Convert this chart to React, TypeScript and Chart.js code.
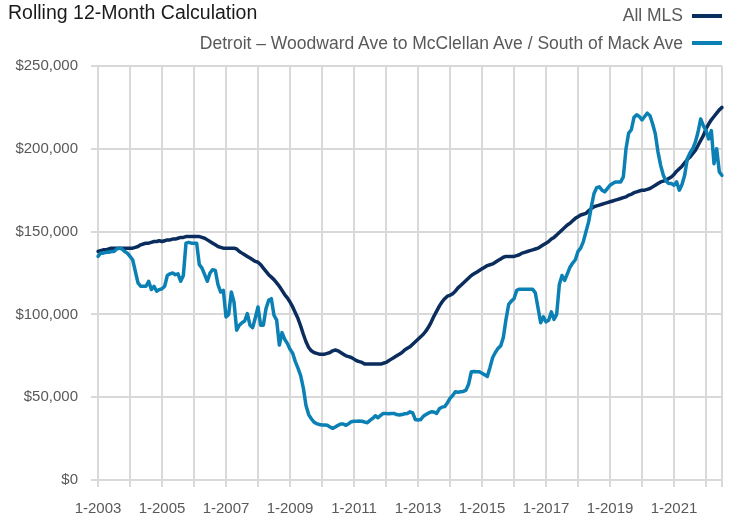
import React, { useEffect, useRef } from 'react';
import { Chart, registerables } from 'chart.js';

Chart.register(...registerables);

// Monthly categories, 1-2003 … 7-2022
const months: string[] = [];
for (let y = 2003; y <= 2022; y++) {
  for (let m = 1; m <= 12; m++) {
    if (months.length < 235) months.push(`${m}-${y}`);
  }
}

const xTickLabels = ['1-2003', '1-2005', '1-2007', '1-2009', '1-2011', '1-2013', '1-2015', '1-2017', '1-2019', '1-2021'];
const yTickValues = [0, 50, 100, 150, 200, 250]; // thousands of dollars

// All MLS, rolling 12-month median price (thousands)
const allMLS = [
  138, 138.5, 139, 139, 139.5, 140, 140, 140, 140, 140, 140, 140,
  140, 140, 140.5, 141, 142, 142.5, 143, 143, 143.5, 144, 144, 144.5,
  144, 144.5, 145, 145, 145.5, 145.5, 146, 146.5, 146.5, 147, 147, 147,
  147, 147, 147, 146.5, 146, 145, 144, 143, 142, 141, 140.5, 140,
  140, 140, 140, 140, 139.5, 138, 137, 136, 135, 134, 133, 132,
  131.5, 130, 128, 126, 124, 122.5, 121, 119, 117, 114.5, 112, 110,
  107.5, 104.5, 101, 97.5, 93, 88, 83.5, 80, 78, 77, 76.5, 76,
  76, 76, 76.5, 77, 78, 78.5, 78, 77, 76, 75, 74.5, 74,
  73, 72, 71.5, 71, 70, 70, 70, 70, 70, 70, 70, 70.5,
  71, 72, 73, 74, 75, 76, 77, 78.5, 79.5, 80.5, 82, 83.5,
  85, 86.5, 88, 90, 92.5, 95.5, 99, 102, 105, 107.5, 109.5, 111,
  111.5, 112.5, 114, 116, 117.5, 119, 120.5, 122, 123.5, 124.5, 125.5, 126.5,
  127.5, 128.5, 129.5, 130, 130.5, 131.5, 132.5, 133.5, 134.5, 135, 135, 135,
  135, 135.5, 136, 137, 137.5, 138, 138.5, 139, 139.5, 140, 141, 142,
  143, 144, 145.5, 146.5, 148, 149.5, 151, 152.5, 154, 155, 156.5, 158,
  159, 160, 160.5, 161, 162.5, 164, 165, 165.5, 166, 166.5, 167, 167.5,
  168, 168.5, 169, 169.5, 170, 170.5, 171, 172, 172.5, 173.5, 174, 174.5,
  175, 175, 175.5, 176, 177, 178, 179, 180, 180.5, 181, 182, 183,
  184.5, 186.5, 188, 189.5, 191.5, 193.5, 195, 197, 199, 202, 205, 208,
  212, 215, 217.5, 219.5, 221.5, 223.5, 225,
];

// Detroit – Woodward Ave to McClellan Ave / South of Mack Ave (thousands)
const detroit = [
  135, 137, 137, 137.5, 137.5, 138, 138, 139.5, 140, 139.5, 138, 137,
  135, 133, 126, 119, 117, 117, 117, 120, 115, 117, 114, 115,
  115.5, 117, 123.5, 124.5, 125, 124, 124.5, 120, 123.5, 143, 143.5, 143,
  143, 143, 130, 128, 124, 120, 125, 127, 126.5, 118, 113.5, 114.5,
  98.5, 100, 113.5, 107.5, 90.5, 93.5, 95, 96, 100.5, 93.5, 92, 98,
  104.5, 93.5, 93.5, 103.5, 108.5, 109.5, 99.5, 96.5, 81.5, 89, 85, 82.5,
  79, 76.5, 71.5, 67.5, 63, 55.5, 45, 39.5, 37, 35, 34, 33.5,
  33.2, 33.2, 33, 32, 31.2, 32, 33, 33.8, 33.8, 33, 34, 35.2,
  35.5, 35.5, 35.6, 35.5, 35, 34.6, 36, 37.2, 38.8, 37.6, 39, 40.2,
  40.2, 40, 40.2, 40.2, 39.5, 39.2, 39.5, 40, 40.2, 41.2, 40.5, 36.5,
  36.2, 36.5, 38.5, 39.5, 40.5, 41.2, 41, 40.2, 43, 44, 44.3, 46.5,
  49.3, 51, 53.3, 53, 53.3, 53.5, 54.3, 58, 65.4, 65.5, 65.4, 65.4,
  64.5, 63.5, 62.5, 68, 74, 77, 79.5, 81, 86, 97, 106, 108,
  109.5, 114.5, 115.2, 115.2, 115.2, 115.2, 115.2, 115.2, 113, 104, 95, 98.5,
  95.5, 96.5, 101.5, 97, 100, 118, 123.5, 120.5, 124.5, 128.5, 131, 133,
  138, 140, 144, 150, 156, 165, 173, 176.5, 177, 175, 174, 176,
  178, 179, 180, 180, 180, 183, 200, 209.5, 211.5, 219, 220.5, 219.5,
  217.5, 219.5, 221.5, 220, 215, 209, 198, 190, 184, 180.5, 179, 179,
  178, 180, 175, 178.5, 184, 194, 197.5, 200, 204, 210, 218, 214,
  211, 206, 211, 191, 200, 186, 184,
];

const NAVY = '#0b2d5d';
const LIGHT = '#0a80b4';
const GRID = '#d9d9d9';
const FONT = "'Liberation Sans', Arial, Helvetica, sans-serif";

export default function App() {
  const canvasRef = useRef<HTMLCanvasElement | null>(null);

  useEffect(() => {
    const canvas = canvasRef.current;
    if (!canvas) return;
    const lastIdx = months.length - 1;
    const chart = new Chart(canvas, {
      type: 'line',
      data: {
        labels: months,
        datasets: [
          {
            label: 'Detroit – Woodward Ave to McClellan Ave / South of Mack Ave',
            data: detroit,
            borderColor: LIGHT,
            backgroundColor: LIGHT,
            borderWidth: 3.5,
            pointRadius: 0,
            tension: 0,
            borderJoinStyle: 'round',
            borderCapStyle: 'round',
          },
          {
            label: 'All MLS',
            data: allMLS,
            borderColor: NAVY,
            backgroundColor: NAVY,
            borderWidth: 3.5,
            pointRadius: 0,
            tension: 0,
            borderJoinStyle: 'round',
            borderCapStyle: 'round',
          },
        ],
      },
      options: {
        responsive: false,
        animation: false,
        events: [],
        layout: { padding: { top: 66, right: 7, left: 0, bottom: 0 } },
        plugins: {
          legend: { display: false },
          tooltip: { enabled: false },
          title: { display: false },
        },
        scales: {
          x: {
            type: 'category',
            offset: false,
            border: { display: false },
            grid: {
              color: (ctx: any) =>
                ctx.index === lastIdx || (months[ctx.index] || '').startsWith('1-') ? GRID : 'rgba(0,0,0,0)',
              lineWidth: 2,
              tickLength: 7,
            },
            ticks: {
              autoSkip: false,
              maxRotation: 0,
              minRotation: 0,
              padding: 13,
              color: '#595959',
              font: { family: FONT, size: 15 },
              callback: (_v: any, i: number) => (xTickLabels.includes(months[i]) ? months[i] : ''),
            },
            afterFit: (s: any) => {
              s.height = 35;
              s.paddingLeft = 0;
              s.paddingRight = 0;
            },
          },
          y: {
            min: 0,
            max: 250,
            border: { display: false },
            grid: { color: GRID, lineWidth: 2, tickLength: 7 },
            afterBuildTicks: (s: any) => {
              s.ticks = yTickValues.map((v) => ({ value: v }));
            },
            ticks: {
              padding: 13,
              color: '#595959',
              font: { family: FONT, size: 15 },
              callback: (v: any) => '$' + (Number(v) * 1000).toLocaleString('en-US'),
            },
            afterFit: (s: any) => {
              s.width = 98;
            },
          },
        },
      },
    });
    return () => chart.destroy();
  }, []);

  const legendText: React.CSSProperties = {
    position: 'absolute',
    right: 46,
    fontFamily: FONT,
    fontSize: 17.5,
    color: '#595959',
    whiteSpace: 'nowrap',
    lineHeight: '20px',
  };

  return (
    <div style={{ position: 'fixed', left: 0, top: 0, width: 729, height: 515, background: '#fff' }}>
      <canvas ref={canvasRef} width={729} height={515} style={{ position: 'absolute', left: 0, top: 0, width: 729, height: 515 }} />
      <div
        style={{
          position: 'absolute',
          left: 8,
          top: 1,
          fontFamily: FONT,
          fontSize: 19.5,
          lineHeight: '22px',
          color: '#1a1a1a',
          whiteSpace: 'nowrap',
        }}
      >
        Rolling 12-Month Calculation
      </div>
      <div style={{ ...legendText, top: 5 }}>All MLS</div>
      <div style={{ position: 'absolute', left: 692, width: 30, top: 14, height: 4, background: NAVY }} />
      <div style={{ ...legendText, top: 33 }}>Detroit – Woodward Ave to McClellan Ave / South of Mack Ave</div>
      <div style={{ position: 'absolute', left: 692, width: 30, top: 41, height: 4, background: LIGHT }} />
    </div>
  );
}
